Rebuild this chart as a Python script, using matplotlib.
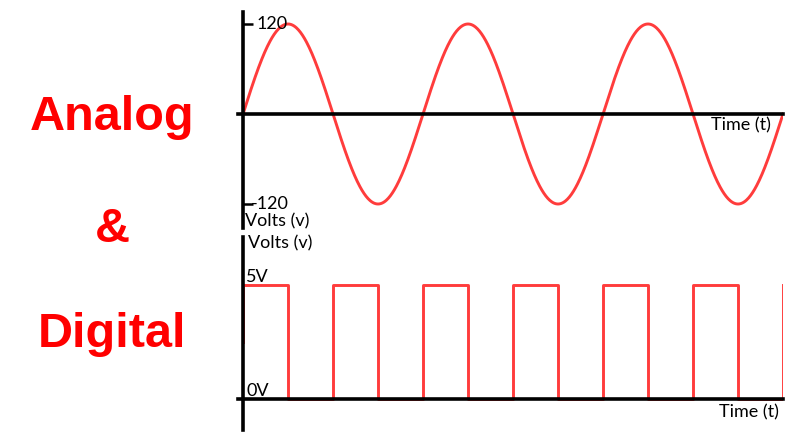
import numpy as np
import matplotlib.pyplot as plt

plt.rcParams['font.family'] = ['Lato', 'DejaVu Sans']

# --- analog signal (sine) ---
sine_amplitude = 120          # volts
sine_cycles = 3
analog_ticks = [120, -120]
analog_tick_labels = ['120', '-120']

# --- digital signal (square) ---
edge_times = [0, 0.25, 0.5, 0.75, 1.0, 1.25, 1.5, 1.75, 2.0, 2.25, 2.5, 2.75, 3.0]
levels = [5, 0, 5, 0, 5, 0, 5, 0, 5, 0, 5, 0]
start_level = 2.5
digital_ticks = [5, 0]
digital_tick_labels = ['5V', '0V']

RED = '#ff3c3c'
W, H = 800, 433
FS = 13


def fx(px):
    return px / W


def fy(py):
    return (H - py) / H


def style_axes(ax):
    for s in ['top', 'right']:
        ax.spines[s].set_visible(False)
    ax.spines['left'].set_position(('data', 0))
    ax.spines['bottom'].set_position(('data', 0))
    for s in ['left', 'bottom']:
        ax.spines[s].set_linewidth(2.6)
        ax.spines[s].set_color('black')
    ax.set_xticks([])
    ax.patch.set_alpha(0)


fig = plt.figure(figsize=(8, 4.33), dpi=100)

# 左侧标题
for txt, yb in [('Analog', 130), ('&', 242), ('Digital', 347)]:
    fig.text(fx(112), fy(yb), txt, ha='center', va='baseline', color='red',
             fontsize=35, fontweight='bold', family=['Liberation Sans', 'DejaVu Sans'])

# 上: analog
ax1 = fig.add_axes([fx(238), fy(228), fx(783) - fx(238), fy(12) - fy(228)])
t = np.linspace(0, sine_cycles, 800)
ax1.plot(t, sine_amplitude * np.sin(2 * np.pi * t), color=RED, lw=2.1)
ax1.set_xlim(-0.028, sine_cycles)
ax1.set_ylim(-152, 136)
style_axes(ax1)
ax1.set_yticks(analog_ticks)
ax1.set_yticklabels([])
ax1.tick_params(axis='y', direction='in', length=7, width=1.8)
for v, lab in zip(analog_ticks, analog_tick_labels):
    off = 13 if not lab.startswith('-') else 8
    ax1.annotate(lab, (0, v), xytext=(off, 0), textcoords='offset pixels',
                 ha='left', va='center', fontsize=FS)

fig.text(fx(245), fy(221), 'Volts (v)', ha='left', va='center', fontsize=FS)
fig.text(fx(771), fy(125), 'Time (t)', ha='right', va='center', fontsize=FS)

# 下: digital
ax2 = fig.add_axes([fx(238), fy(430), fx(783) - fx(238), fy(237) - fy(430)])
xs = [edge_times[0]]
ys = [start_level]
for i, lvl in enumerate(levels):
    xs += [edge_times[i], edge_times[i + 1]]
    ys += [lvl, lvl]
xs.append(edge_times[-1])
ys.append(levels[0])
ax2.plot(xs, ys, color=RED, lw=2.1)
ax2.set_xlim(-0.028, edge_times[-1])
ax2.set_ylim(-1.36, 7.1)
style_axes(ax2)
ax2.set_yticks([])
for v, lab in zip(digital_ticks, digital_tick_labels):
    ax2.annotate(lab, (0, v), xytext=(3, 8), textcoords='offset pixels',
                 ha='left', va='center', fontsize=FS)

fig.text(fx(248), fy(243), 'Volts (v)', ha='left', va='center', fontsize=FS)
fig.text(fx(779), fy(412), 'Time (t)', ha='right', va='center', fontsize=FS)

fig.savefig('out.png', dpi=100)
